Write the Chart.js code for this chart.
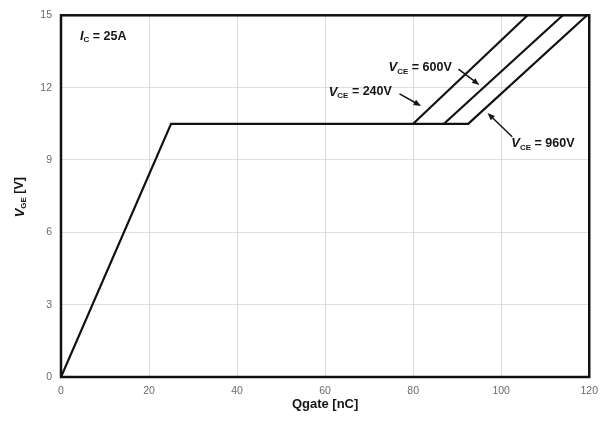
<!DOCTYPE html>
<html>
<head>
<meta charset="utf-8">
<script src="https://cdn.jsdelivr.net/npm/chart.js@4/dist/chart.umd.min.js"></script>
<style>
    html, body { margin: 0; padding: 0; background: #fff; }
    #wrap { width: 606px; height: 421px; }
</style>
</head>
<body>
<div id="wrap"><canvas id="gateChart"></canvas></div>
<script>
// Data (Qgate in nC, VGE in V)
const curve960Q = [0, 25, 92.5, 119.5];
const curve960V = [0, 10.5, 10.5, 15];
const curve600Q = [87, 114];
const curve600V = [10.5, 15];
const curve240Q = [80, 106];
const curve240V = [10.5, 15];

const xTicks = [0, 20, 40, 60, 80, 100, 120];
const yTicks = [0, 3, 6, 9, 12, 15];

// Annotation labels: [main, subscript, rest, x, y]
const labels = [
    ['I', 'C', ' = 25A', 4.3, 14.13],
    ['V', 'CE', ' = 600V', 74.4, 12.82],
    ['V', 'CE', ' = 240V', 60.8, 11.82],
    ['V', 'CE', ' = 960V', 102.3, 9.67],
];
// Arrows: [fromX, fromY, toX, toY]
const arrows = [
    [90.3, 12.77, 95.05, 12.11],
    [76.9, 11.74, 81.8, 11.24],
    [102.5, 9.96, 96.9, 10.95],
];

const toPoints = (qs, vs) => qs.map((q, i) => ({ x: q, y: vs[i] }));

const FONT = '"Liberation Sans", Arial, sans-serif';

const drawSubLabel = (ctx, main, sub, rest, x, y) => {
    ctx.textBaseline = 'middle';
    ctx.textAlign = 'left';
    ctx.font = `italic bold 13px ${FONT}`;
    ctx.fillText(main, x, y);
    let cx = x + ctx.measureText(main).width;
    ctx.font = `bold 8px ${FONT}`;
    ctx.fillText(sub, cx, y + 3.5);
    cx += ctx.measureText(sub).width;
    ctx.font = `bold 12.5px ${FONT}`;
    ctx.fillText(rest, cx, y);
};

const decorPlugin = {
    id: 'decor',
    afterDatasetsDraw(chart) {
        const { ctx, chartArea, scales: { x, y } } = chart;
        ctx.save();
        // plot frame
        ctx.strokeStyle = '#111';
        ctx.lineWidth = 2.5;
        ctx.strokeRect(chartArea.left, chartArea.top,
            chartArea.right - chartArea.left, chartArea.bottom - chartArea.top);

        ctx.fillStyle = '#151515';
        labels.forEach(([m, s, r, lx, ly]) => {
            drawSubLabel(ctx, m, s, r, x.getPixelForValue(lx), y.getPixelForValue(ly));
        });

        // arrows
        ctx.strokeStyle = '#151515';
        ctx.lineWidth = 1.5;
        arrows.forEach(([fx, fy, tx, ty]) => {
            const x0 = x.getPixelForValue(fx);
            const y0 = y.getPixelForValue(fy);
            const x1 = x.getPixelForValue(tx);
            const y1 = y.getPixelForValue(ty);
            const ang = Math.atan2(y1 - y0, x1 - x0);
            ctx.beginPath();
            ctx.moveTo(x0, y0);
            ctx.lineTo(x1 - 5 * Math.cos(ang), y1 - 5 * Math.sin(ang));
            ctx.stroke();
            ctx.beginPath();
            ctx.moveTo(x1, y1);
            ctx.lineTo(x1 - 8 * Math.cos(ang - 0.38), y1 - 8 * Math.sin(ang - 0.38));
            ctx.lineTo(x1 - 8 * Math.cos(ang + 0.38), y1 - 8 * Math.sin(ang + 0.38));
            ctx.closePath();
            ctx.fill();
        });

        // y axis title, rotated
        ctx.translate(20, (chartArea.top + chartArea.bottom) / 2 + 1);
        ctx.rotate(-Math.PI / 2);
        ctx.font = `italic bold 13px ${FONT}`;
        const w1 = ctx.measureText('V').width;
        ctx.font = `bold 8px ${FONT}`;
        const w2 = ctx.measureText('GE').width;
        ctx.font = `bold 12.5px ${FONT}`;
        const w3 = ctx.measureText(' [V]').width;
        drawSubLabel(ctx, 'V', 'GE', ' [V]', -(w1 + w2 + w3) / 2, 0);
        ctx.restore();
    },
};

const lineStyle = {
    showLine: true,
    borderColor: '#111',
    borderWidth: 2.2,
    pointRadius: 0,
    fill: false,
    tension: 0,
};

// eslint-disable-next-line no-new
new Chart(document.getElementById('gateChart').getContext('2d'), {
    type: 'scatter',
    data: {
        datasets: [
            { label: 'VCE = 960V', data: toPoints(curve960Q, curve960V), ...lineStyle },
            { label: 'VCE = 600V', data: toPoints(curve600Q, curve600V), ...lineStyle },
            { label: 'VCE = 240V', data: toPoints(curve240Q, curve240V), ...lineStyle },
        ],
    },
    options: {
        responsive: true,
        maintainAspectRatio: false,
        animation: false,
        layout: { padding: { left: 0, right: 16, top: 14, bottom: 0 } },
        plugins: {
            legend: { display: false },
            tooltip: { enabled: false },
        },
        scales: {
            x: {
                type: 'linear',
                min: 0,
                max: 120,
                afterBuildTicks: (scale) => { scale.ticks = xTicks.map((v) => ({ value: v })); },
                afterFit: (scale) => { scale.height = 44; },
                grid: { color: '#dedede', lineWidth: 1, drawTicks: false },
                border: { display: false },
                ticks: {
                    color: '#6a6a6a',
                    padding: 8,
                    font: { family: FONT, size: 10.5 },
                },
                title: {
                    display: true,
                    text: 'Qgate [nC]',
                    color: '#151515',
                    font: { family: FONT, size: 13, weight: 'bold' },
                    padding: { top: 0, bottom: 9 },
                },
            },
            y: {
                type: 'linear',
                min: 0,
                max: 15,
                afterBuildTicks: (scale) => { scale.ticks = yTicks.map((v) => ({ value: v })); },
                afterFit: (scale) => { scale.width = 61; },
                grid: { color: '#dedede', lineWidth: 1, drawTicks: false },
                border: { display: false },
                ticks: {
                    color: '#6a6a6a',
                    padding: 9,
                    font: { family: FONT, size: 10.5 },
                },
            },
        },
    },
    plugins: [decorPlugin],
});
</script>
</body>
</html>
